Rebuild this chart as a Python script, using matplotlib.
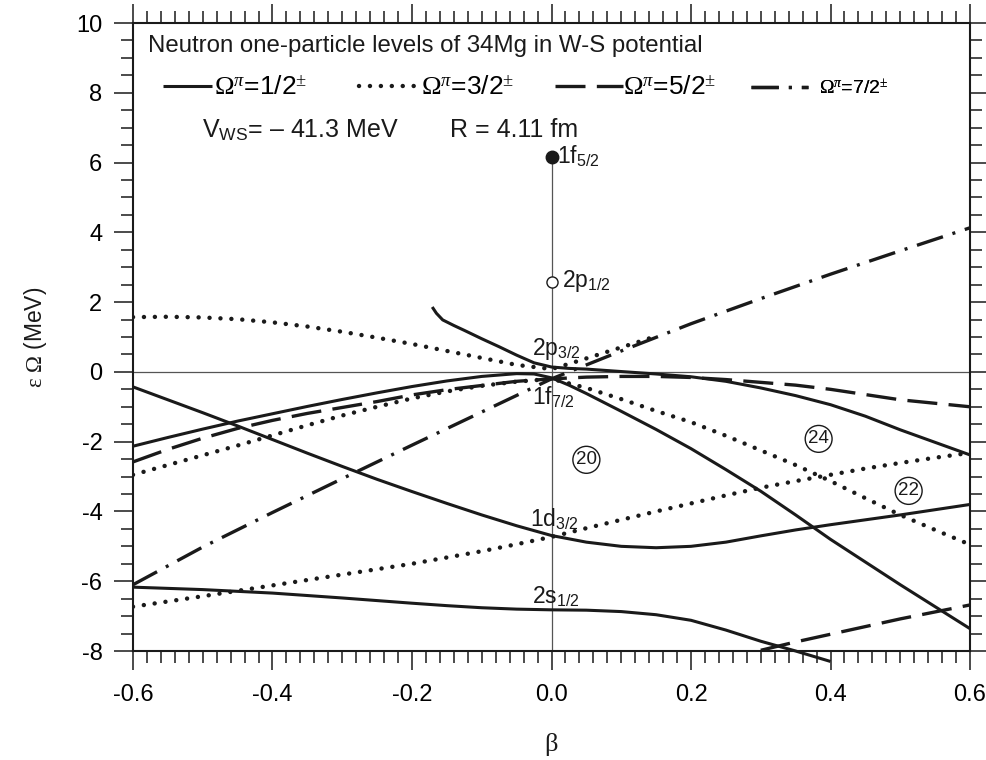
import matplotlib
matplotlib.use("Agg")
import matplotlib.pyplot as plt
from matplotlib.lines import Line2D
from matplotlib.ticker import MultipleLocator, FixedLocator

plt.rcParams['font.family'] = ['Liberation Sans', 'DejaVu Sans']
plt.rcParams['mathtext.fontset'] = 'custom'
plt.rcParams['mathtext.rm'] = 'Liberation Serif'
plt.rcParams['mathtext.it'] = 'Liberation Serif:italic'
plt.rcParams['mathtext.bf'] = 'Liberation Serif:bold'
plt.rcParams['mathtext.sf'] = 'Liberation Sans'
plt.rcParams['axes.unicode_minus'] = False

# ---------------- data (beta, energy in MeV) ----------------
# Omega = 1/2 (solid)
s1_beta = [-0.6, -0.55, -0.5, -0.45, -0.4, -0.35, -0.3, -0.25, -0.2, -0.15, -0.1, -0.05, 0,
           0.05, 0.1, 0.15, 0.2, 0.25, 0.3, 0.35, 0.4, 0.45, 0.5, 0.55, 0.6]
s1_e = [-0.43, -0.8, -1.17, -1.55, -1.94, -2.33, -2.71, -3.08, -3.43, -3.77, -4.1, -4.41, -4.69,
        -4.88, -5.0, -5.04, -5.0, -4.88, -4.7, -4.53, -4.38, -4.24, -4.1, -3.95, -3.8]

s2_beta = [-0.6, -0.5, -0.4, -0.3, -0.2, -0.15, -0.1, -0.05, 0, 0.05, 0.1, 0.15, 0.2, 0.25,
           0.3, 0.35, 0.4]
s2_e = [-6.17, -6.24, -6.34, -6.48, -6.63, -6.7, -6.76, -6.8, -6.82, -6.83, -6.87, -6.96, -7.12,
        -7.4, -7.72, -8.0, -8.3]

s3_beta = [-0.6, -0.55, -0.5, -0.45, -0.4, -0.35, -0.3, -0.25, -0.2, -0.15, -0.1, -0.05, -0.025,
           0, 0.025, 0.05, 0.1, 0.15, 0.2, 0.25, 0.3, 0.35, 0.4, 0.45, 0.5, 0.55, 0.6]
s3_e = [-2.13, -1.88, -1.64, -1.41, -1.2, -0.99, -0.79, -0.6, -0.42, -0.26, -0.13, -0.05, -0.06,
        -0.17, -0.38, -0.62, -1.13, -1.65, -2.2, -2.8, -3.42, -4.1, -4.8, -5.45, -6.1, -6.73, -7.36]

s4_beta = [-0.171, -0.165, -0.156, -0.14, -0.125, -0.1, -0.075, -0.05, -0.025, 0, 0.025, 0.05,
           0.1, 0.15, 0.2, 0.25, 0.3, 0.35, 0.4, 0.45, 0.5, 0.55, 0.6]
s4_e = [1.86, 1.68, 1.49, 1.33, 1.19, 0.95, 0.72, 0.48, 0.26, 0.14, 0.1, 0.08,
        0.01, -0.06, -0.14, -0.27, -0.46, -0.68, -0.94, -1.27, -1.66, -2.02, -2.38]

# Omega = 3/2 (dotted)
d1_beta = [-0.6, -0.55, -0.5, -0.45, -0.4, -0.35, -0.3, -0.25, -0.2, -0.15, -0.1, -0.05, 0,
           0.03, 0.06, 0.09, 0.12, 0.14]
d1_e = [1.57, 1.58, 1.56, 1.51, 1.42, 1.3, 1.15, 0.98, 0.8, 0.6, 0.4, 0.2, 0.08,
        0.26, 0.45, 0.64, 0.83, 0.96]

d2_beta = [-0.6, -0.55, -0.5, -0.45, -0.4, -0.35, -0.3, -0.25, -0.2, -0.15, -0.1, -0.05, 0,
           0.05, 0.1, 0.15, 0.2, 0.25, 0.3, 0.35, 0.4, 0.45, 0.5, 0.55, 0.6]
d2_e = [-2.95, -2.67, -2.39, -2.11, -1.82, -1.53, -1.25, -1.0, -0.76, -0.56, -0.4, -0.28, -0.2,
        -0.46, -0.78, -1.12, -1.44, -1.83, -2.25, -2.67, -3.13, -3.62, -4.1, -4.53, -4.95]

d3_beta = [-0.6, -0.5, -0.4, -0.3, -0.2, -0.1, -0.05, 0, 0.05, 0.1, 0.15, 0.2, 0.25, 0.3,
           0.35, 0.4, 0.45, 0.5, 0.55, 0.6]
d3_e = [-6.73, -6.43, -6.12, -5.81, -5.5, -5.14, -4.94, -4.73, -4.48, -4.24, -4.0, -3.77, -3.54,
        -3.32, -3.13, -2.95, -2.77, -2.61, -2.46, -2.32]

# Omega = 5/2 (dashed)
da1_beta = [-0.6, -0.55, -0.5, -0.45, -0.4, -0.35, -0.3, -0.25, -0.2, -0.15, -0.1, -0.05, 0,
            0.05, 0.1, 0.15, 0.2, 0.25, 0.3, 0.35, 0.4, 0.45, 0.5, 0.55, 0.6]
da1_e = [-2.58, -2.22, -1.9, -1.62, -1.39, -1.19, -1.02, -0.85, -0.66, -0.51, -0.39, -0.27, -0.2,
         -0.15, -0.13, -0.13, -0.16, -0.22, -0.3, -0.38, -0.5, -0.65, -0.8, -0.9, -1.0]

da2_beta = [0.3, 0.35, 0.4, 0.45, 0.5, 0.55, 0.6]
da2_e = [-7.98, -7.74, -7.52, -7.3, -7.08, -6.88, -6.68]

# Omega = 7/2 (dash-dot)
dd1_beta = [-0.6, -0.5, -0.4, -0.3, -0.2, -0.1, 0, 0.1, 0.2, 0.3, 0.4, 0.5, 0.6]
dd1_e = [-6.1, -5.02, -4.03, -3.06, -2.1, -1.15, -0.2, 0.6, 1.38, 2.1, 2.8, 3.47, 4.13]

# spherical levels at beta = 0
sph_labels = [r'1f$_{\mathsf{5/2}}$', r'2p$_{\mathsf{1/2}}$', r'2p$_{\mathsf{3/2}}$',
              r'1f$_{\mathsf{7/2}}$', r'1d$_{\mathsf{3/2}}$', r'2s$_{\mathsf{1/2}}$']
sph_e = [6.16, 2.58, 0.1, -0.2, -4.73, -6.82]

# magic numbers (circled)
gap_numbers = ['20', '24', '22']
gap_beta = [0.050, 0.383, 0.512]
gap_e = [-2.52, -1.92, -3.41]

legend_labels = [r'$\Omega^{\pi}$=1/2$^{\pm}$', r'$\Omega^{\pi}$=3/2$^{\pm}$',
                 r'$\Omega^{\pi}$=5/2$^{\pm}$', r'$\Omega^{\pi}$=7/2$^{\pm}$']

x_ticks = [-0.6, -0.4, -0.2, 0.0, 0.2, 0.4, 0.6]
x_ticklabels = ['-0.6', '-0.4', '-0.2', '0.0', '0.2', '0.4', '0.6']
y_ticks = [10, 8, 6, 4, 2, 0, -2, -4, -6, -8]
y_ticklabels = ['10', '8', '6', '4', '2', '0', '-2', '-4', '-6', '-8']

# ---------------- styles ----------------
K = '#1a1a1a'
sty_solid = dict(color=K, lw=2.2, ls='-', solid_capstyle='butt')
sty_dot = dict(color=K, lw=3.2, ls=(0, (0.01, 2.45)), dash_capstyle='round')
sty_dash = dict(color=K, lw=2.4, ls=(0, (9.0, 3.4)), dash_capstyle='butt')
sty_dd = dict(color=K, lw=2.4, ls=(0, (8.2, 3.0, 0.9, 3.0)), dash_capstyle='butt')

fig = plt.figure(figsize=(9.86, 7.6), dpi=100)
ax = fig.add_axes([133 / 986, 1 - 651 / 760, 837 / 986, 628 / 760])
ax.set_xlim(-0.6, 0.6)
ax.set_ylim(-8, 10)

# reference lines
ax.axhline(0, color='#555555', lw=0.9, zorder=1)
ax.vlines(0, -8, max(sph_e), color='#555555', lw=0.9, zorder=1)

for b, e in [(s1_beta, s1_e), (s3_beta, s3_e), (s4_beta, s4_e)]:
    ax.plot(b, e, **sty_solid, zorder=3)
ax.plot(s2_beta, s2_e, **sty_solid, zorder=3, clip_on=False)
for b, e in [(d1_beta, d1_e), (d2_beta, d2_e), (d3_beta, d3_e)]:
    ax.plot(b, e, **sty_dot, zorder=3)
for b, e in [(da1_beta, da1_e), (da2_beta, da2_e)]:
    ax.plot(b, e, **sty_dash, zorder=3)
ax.plot(dd1_beta, dd1_e, **sty_dd, zorder=3)

# spherical markers
ax.plot([0], [sph_e[0]], 'o', ms=9, color=K, zorder=4)
ax.plot([0], [sph_e[1]], 'o', ms=8, mfc='white', mec=K, mew=1.0, zorder=4)

offsets = [(4.3, -5.0), (7.2, -3.6), (-14.4, 9.7), (-13.7, -18.7), (-15.8, 7.2), (-14.4, 4.3)]
for lab, e, off in zip(sph_labels, sph_e, offsets):
    ax.annotate(lab, xy=(0, e), xytext=off, textcoords='offset points',
                ha='left', va='baseline', fontsize=16.5, color=K, zorder=5)

for n, b, e in zip(gap_numbers, gap_beta, gap_e):
    ax.text(b, e, n, ha='center', va='center', fontsize=13.5, color=K,
            bbox=dict(boxstyle='circle,pad=0.16', fc='none', ec=K, lw=1.0))

# header texts
ax.text(-0.578, 9.17, 'Neutron one-particle levels of 34Mg in W-S potential',
        fontsize=17.3, ha='left', va='baseline', color=K)
ax.text(-0.5007, 6.73, r'V$_{\mathsf{WS}}$= – 41.3 MeV', fontsize=18, ha='left',
        va='baseline', color=K)
ax.text(-0.145, 6.73, 'R = 4.11 fm', fontsize=18, ha='left', va='baseline', color=K)

# legend entries, each placed separately
handles = [Line2D([], [], **sty_solid), Line2D([], [], **sty_dot),
           Line2D([], [], **sty_dash), Line2D([], [], **sty_dd)]
leg_x = [(163 - 133) / 837, (359 - 133) / 837, (555 - 133) / 837, (751 - 133) / 837]
leg_fs = [19, 19, 19, 14]
leg_hl = [49 / 26.4, 60 / 26.4, 68 / 26.4, 57 / 19.4]
leg_tp = [0.08, 0.08, 0.02, 0.55]
for h, lab, x, fs, hl, tp in zip(handles, legend_labels, leg_x, leg_fs, leg_hl, leg_tp):
    lg = ax.legend([h], [lab], loc='center left', bbox_to_anchor=(x, 0.8965),
                   frameon=False, fontsize=fs, handlelength=hl, handletextpad=tp,
                   borderpad=0, borderaxespad=0)
    ax.add_artist(lg)

# axes styling
for sp in ax.spines.values():
    sp.set_linewidth(1.5)
    sp.set_color(K)
ax.xaxis.set_major_locator(FixedLocator(x_ticks))
ax.set_xticklabels(x_ticklabels)
ax.yaxis.set_major_locator(FixedLocator(y_ticks))
ax.set_yticklabels(y_ticklabels)
ax.xaxis.set_minor_locator(MultipleLocator(0.02))
ax.yaxis.set_minor_locator(MultipleLocator(0.5))
ax.tick_params(which='both', direction='out', top=True, right=True, color=K, width=1.1)
ax.tick_params(which='major', length=14, labelsize=17)
ax.tick_params(which='minor', length=8.5)
ax.tick_params(axis='x', which='major', pad=10)
ax.tick_params(axis='y', which='major', pad=8)

ax.set_ylabel(r'$\mathrm{\varepsilon\ \Omega}$ (MeV)', fontsize=16.5, color=K)
ax.yaxis.set_label_coords(-0.100, 0.5)
ax.set_xlabel(r'$\mathrm{\beta}$', fontsize=19, color=K)
ax.xaxis.set_label_coords(0.5, -0.128)

fig.savefig('out.png', dpi=100)
